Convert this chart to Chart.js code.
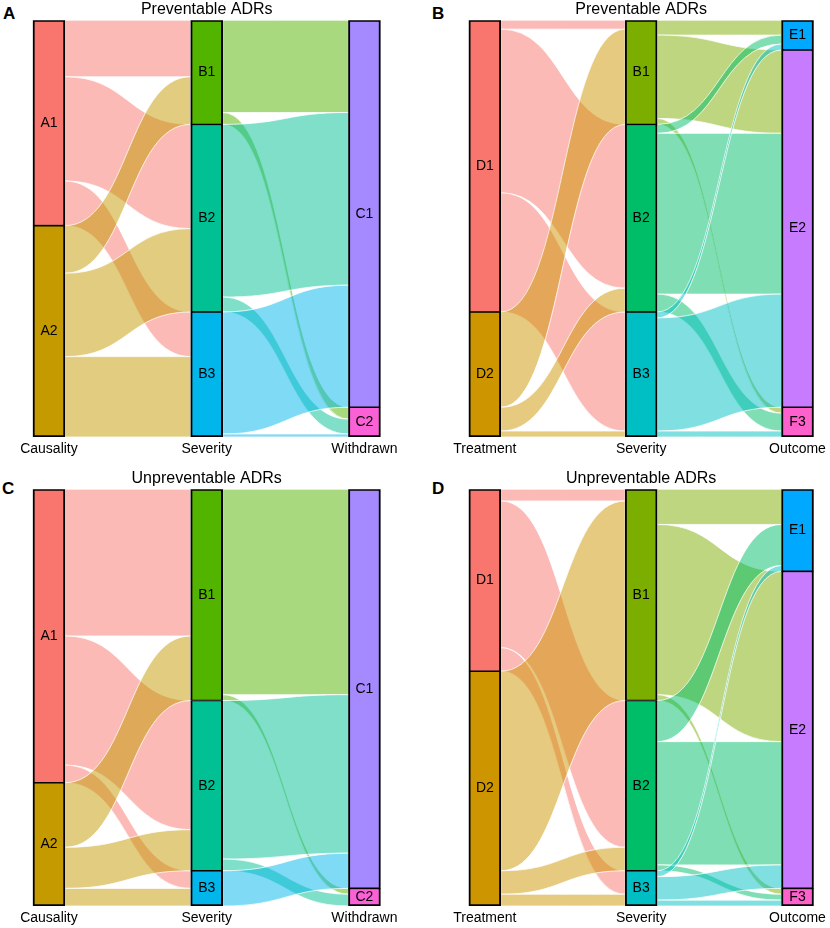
<!DOCTYPE html>
<html>
<head>
<meta charset="utf-8">
<script src="https://cdn.jsdelivr.net/npm/chart.js@4.4.0/dist/chart.umd.min.js"></script>
<style>
html,body{margin:0;padding:0;background:#fff;width:830px;height:928px;overflow:hidden;position:relative;font-family:'Liberation Sans',Arial,Helvetica,sans-serif;}
canvas{position:absolute;}
.tag{position:absolute;font-weight:bold;font-size:17px;line-height:17px;color:#000;}
</style>
</head>
<body>
<div class="tag" style="left:3px;top:5px">A</div>
<div class="tag" style="left:432px;top:5px">B</div>
<div class="tag" style="left:2px;top:480px">C</div>
<div class="tag" style="left:432px;top:480px">D</div>
<canvas id="cA" width="415" height="464" style="left:0px;top:0px"></canvas>
<canvas id="cB" width="415" height="464" style="left:415px;top:0px"></canvas>
<canvas id="cC" width="415" height="464" style="left:0px;top:469px"></canvas>
<canvas id="cD" width="415" height="464" style="left:415px;top:469px"></canvas>
<script>
// ---------------- data ----------------
const axesCausality = ['Causality', 'Severity', 'Withdrawn'];
const axesTreatment = ['Treatment', 'Severity', 'Outcome'];

const causalityStrata = ['A1', 'A2'];
const severityStrata = ['B1', 'B2', 'B3'];
const withdrawnStrata = ['C1', 'C2'];
const treatmentStrata = ['D1', 'D2'];
const outcomeStrata = ['E1', 'E2', 'F3'];

// Preventable ADRs (rows = left-axis strata, columns = right-axis strata)
const prevCausalityToSeverity = [[19, 35, 15], [16, 28, 27]];
const prevSeverityToWithdrawn = [[31, 4], [58, 5], [41, 1]];
const prevTreatmentToSeverity = [[3, 55, 40], [32, 8, 2]];
const prevSeverityToOutcome = [[5, 28, 2], [3, 54, 6], [2, 38, 2]];

// Unpreventable ADRs
const unprevCausalityToSeverity = [[25, 22, 3], [11, 7, 3]];
const unprevSeverityToWithdrawn = [[35, 1], [27, 2], [6, 0]];
const unprevTreatmentToSeverity = [[2, 25, 4], [34, 4, 2]];
const unprevSeverityToOutcome = [[6, 29, 1], [7, 21, 1], [1, 4, 1]];

// ---------------- styles ----------------
const palette7 = ['#F8766D', '#C49A00', '#53B400', '#00C094', '#00B6EB', '#A58AFF', '#FB61D7'];
const palette8 = ['#F8766D', '#CD9600', '#7CAE00', '#00BE67', '#00BFC4', '#00A9FF', '#C77CFF', '#FF61CC'];
const FONT = "'Liberation Sans', Arial, Helvetica, sans-serif";
Chart.defaults.font.family = FONT;

function rowSums(m) { return m.map(r => r.reduce((a, b) => a + b, 0)); }
function colSums(m) { return m[0].map((_, j) => m.reduce((s, r) => s + r[j], 0)); }
function starts(arr) { let c = 0; return arr.map(v => { const s = c; c += v; return s; }); }
function alpha(hex, a) {
  const n = parseInt(hex.slice(1), 16);
  return 'rgba(' + (n >> 16) + ',' + ((n >> 8) & 255) + ',' + (n & 255) + ',' + a + ')';
}

function buildPanel(id, titleText, axisNames, strataNames, mats, palette, frame) {
  const totals = [rowSums(mats[0]), colSums(mats[0]), colSums(mats[1])];
  const grand = totals[0].reduce((a, b) => a + b, 0);
  const st = totals.map(starts);
  const colorOf = [];
  let ci = 0;
  strataNames.forEach((names, k) => { colorOf[k] = names.map(() => palette[ci++]); });

  const datasets = [];
  strataNames.forEach((names, k) => {
    names.forEach((name, j) => {
      const first = j === 0, last = j === names.length - 1;
      datasets.push({
        label: name,
        data: [{ x: k + 1, y: [st[k][j], st[k][j] + totals[k][j]] }],
        backgroundColor: colorOf[k][j],
        borderColor: '#000',
        borderWidth: { left: 2, right: 2, top: first ? 2 : 1.1, bottom: last ? 2 : 1.1 },
        borderSkipped: false,
        grouped: false,
        barThickness: 32,
        maxBarThickness: 32
      });
    });
  });

  const ribbons = [];
  mats.forEach((m, k) => {
    const srcOff = st[k].slice();
    const dstOff = st[k + 1].slice();
    const segs = m.map(r => r.map(() => ({})));
    m.forEach((row, s) => row.forEach((v, t) => { segs[s][t].y0 = [srcOff[s], srcOff[s] + v]; srcOff[s] += v; }));
    m[0].forEach((_, t) => m.forEach((row, s) => { const v = row[t]; segs[s][t].y1 = [dstOff[t], dstOff[t] + v]; dstOff[t] += v; }));
    m.forEach((row, s) => row.forEach((v, t) => {
      if (v > 0) ribbons.push({ from: k, color: alpha(colorOf[k][s], 0.5), y0: segs[s][t].y0, y1: segs[s][t].y1 });
    }));
  });

  const alluvialPlugin = {
    id: 'alluvial' + id,
    beforeDatasetsDraw(chart) {
      const ctx = chart.ctx, x = chart.scales.x, y = chart.scales.y;
      const half = chart.getDatasetMeta(0).data[0].width / 2;
      ctx.save();
      ribbons.forEach(r => {
        const x0 = x.getPixelForValue(r.from + 1) + half;
        const x1 = x.getPixelForValue(r.from + 2) - half;
        const xm = (x0 + x1) / 2;
        const a0 = y.getPixelForValue(r.y0[0]), b0 = y.getPixelForValue(r.y0[1]);
        const a1 = y.getPixelForValue(r.y1[0]), b1 = y.getPixelForValue(r.y1[1]);
        ctx.beginPath();
        ctx.moveTo(x0, a0);
        ctx.bezierCurveTo(xm, a0, xm, a1, x1, a1);
        ctx.lineTo(x1, b1);
        ctx.bezierCurveTo(xm, b1, xm, b0, x0, b0);
        ctx.closePath();
        ctx.fillStyle = r.color;
        ctx.fill();
        ctx.strokeStyle = 'rgba(255,255,255,0.85)';
        ctx.lineWidth = 0.9;
        ctx.stroke();
      });
      ctx.restore();
    },
    afterDatasetsDraw(chart) {
      const ctx = chart.ctx;
      ctx.save();
      ctx.font = '14px ' + FONT;
      ctx.fillStyle = '#000';
      ctx.textAlign = 'center';
      ctx.textBaseline = 'middle';
      chart.data.datasets.forEach((ds, i) => {
        const el = chart.getDatasetMeta(i).data[0];
        const c = el.getCenterPoint();
        ctx.fillText(ds.label, c.x, c.y);
      });
      ctx.restore();
    }
  };

  return new Chart(document.getElementById(id), {
    type: 'bar',
    data: { datasets },
    plugins: [alluvialPlugin],
    options: {
      responsive: false,
      animation: false,
      events: [],
      layout: { padding: { top: 0, left: frame.padLeft, right: frame.padRight, bottom: 5 } },
      plugins: {
        legend: { display: false },
        tooltip: { enabled: false },
        title: {
          display: true, text: titleText, color: '#000', fullSize: false,
          font: { family: FONT, size: 16, weight: 'normal' },
          padding: { top: 0, bottom: 1 }
        }
      },
      scales: {
        x: {
          type: 'linear', min: 0.85, max: 3.15, offset: false,
          grid: { display: false, drawTicks: false },
          border: { display: false },
          afterBuildTicks: s => { s.ticks = [1, 2, 3].map(v => ({ value: v })); },
          afterFit: s => { s.height = 22; },
          ticks: {
            padding: 3.5, autoSkip: false, maxRotation: 0, color: '#000',
            font: { family: FONT, size: 14 },
            callback: v => axisNames[v - 1]
          }
        },
        y: { type: 'linear', min: 0, max: grand, reverse: true, display: false }
      }
    }
  });
}

const frameLeft = { padLeft: 25.3, padRight: 26.9 };
const frameRight = { padLeft: 46.4, padRight: 6.9 };

buildPanel('cA', 'Preventable ADRs', axesCausality, [causalityStrata, severityStrata, withdrawnStrata],
  [prevCausalityToSeverity, prevSeverityToWithdrawn], palette7, frameLeft);
buildPanel('cB', 'Preventable ADRs', axesTreatment, [treatmentStrata, severityStrata, outcomeStrata],
  [prevTreatmentToSeverity, prevSeverityToOutcome], palette8, frameRight);
buildPanel('cC', 'Unpreventable ADRs', axesCausality, [causalityStrata, severityStrata, withdrawnStrata],
  [unprevCausalityToSeverity, unprevSeverityToWithdrawn], palette7, frameLeft);
buildPanel('cD', 'Unpreventable ADRs', axesTreatment, [treatmentStrata, severityStrata, outcomeStrata],
  [unprevTreatmentToSeverity, unprevSeverityToOutcome], palette8, frameRight);
</script>
</body>
</html>
